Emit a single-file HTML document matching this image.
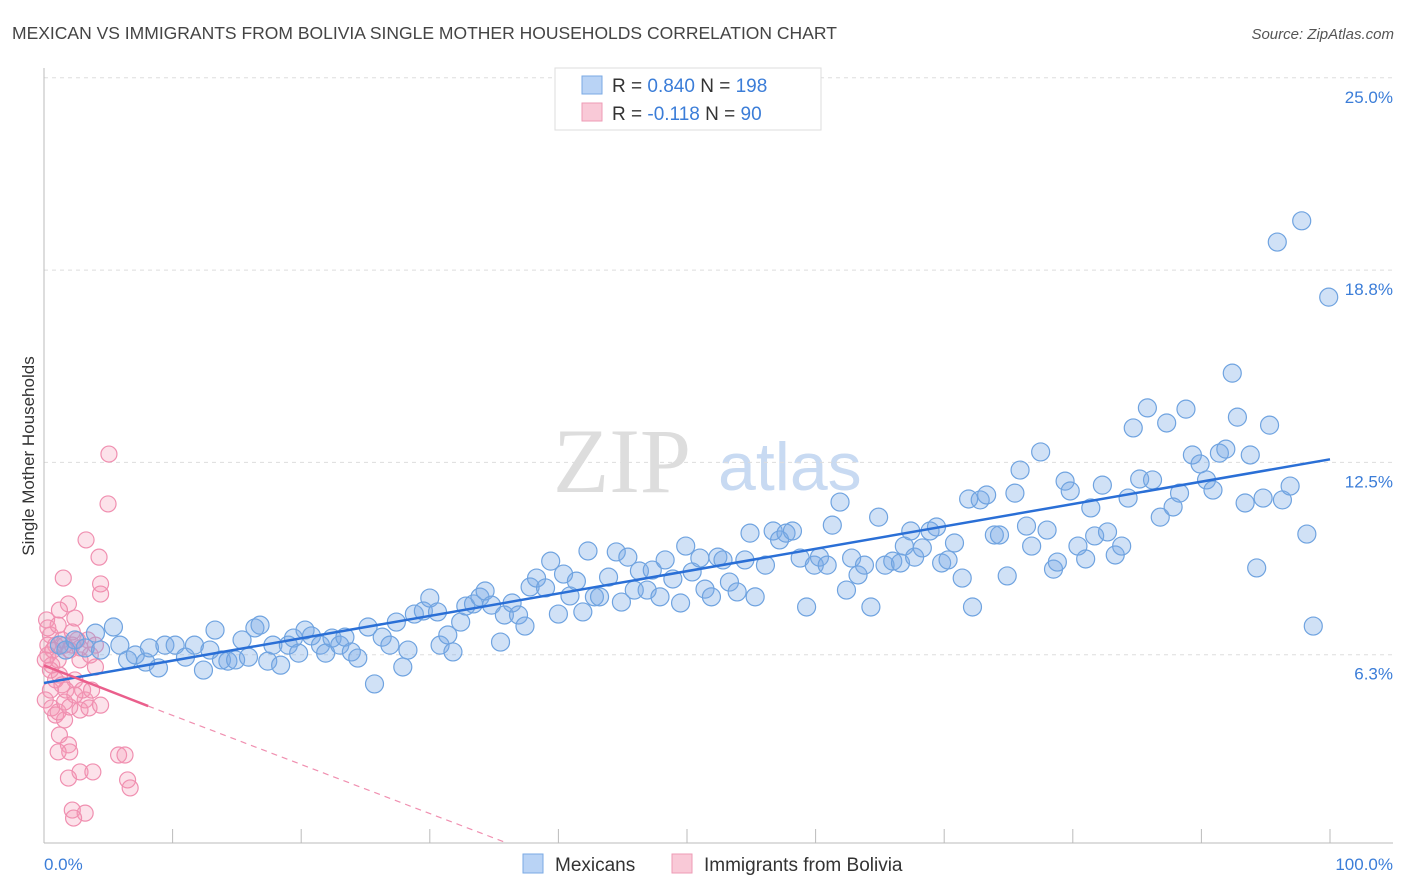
<!DOCTYPE html>
<html><head><meta charset="utf-8"><style>
body{margin:0;background:#fff;font-family:"Liberation Sans",sans-serif}
svg{display:block}
</style></head><body>
<svg id="c" width="1406" height="892" xmlns="http://www.w3.org/2000/svg">
<text x="12" y="39" font-size="17.5" fill="#444">MEXICAN VS IMMIGRANTS FROM BOLIVIA SINGLE MOTHER HOUSEHOLDS CORRELATION CHART</text>
<text x="1394" y="39" font-size="15" fill="#555" font-style="italic" text-anchor="end">Source: ZipAtlas.com</text>
<g>
<text x="553" y="492" font-size="92" font-family="Liberation Serif,serif" fill="#ddd">ZIP</text>
<text x="718" y="490" font-size="68" fill="#c8daf2">atlas</text>
</g>
<g id="grid"></g>
<g id="axes"></g>
<g id="pink"></g>
<g id="blue"></g>
<g id="lines"></g>
<text transform="translate(34,456) rotate(-90)" font-size="17" fill="#333" text-anchor="middle">Single Mother Households</text>
<text x="44" y="870" font-size="17" fill="#3b7dd8">0.0%</text>
<text x="1393" y="870" font-size="17" fill="#3b7dd8" text-anchor="end">100.0%</text>
<g>
<rect x="555" y="68" width="266" height="62" fill="#fff" stroke="#ddd"/>
<rect x="582" y="76" width="20" height="18" fill="#b9d3f5" stroke="#7aa9e4"/>
<rect x="582" y="103" width="20" height="18" fill="#f9c9d7" stroke="#ee9bb6"/>
<text x="612" y="92" font-size="19" fill="#333">R = <tspan fill="#3b7dd8">0.840</tspan>   N = <tspan fill="#3b7dd8">198</tspan></text>
<text x="612" y="120" font-size="19" fill="#333">R = <tspan fill="#3b7dd8">-0.118</tspan>   N = <tspan fill="#3b7dd8"> 90</tspan></text>
</g>
<g>
<rect x="523" y="854" width="20" height="19" fill="#b9d3f5" stroke="#7aa9e4"/>
<text x="555" y="871" font-size="19" fill="#333">Mexicans</text>
<rect x="672" y="854" width="20" height="19" fill="#f9c9d7" stroke="#ee9bb6"/>
<text x="704" y="871" font-size="19" fill="#333">Immigrants from Bolivia</text>
</g>
</svg>
<script>
const yTicks=[6.25,12.5,18.75,25];
const yTickLabels=["6.3%","12.5%","18.8%","25.0%"];
const xTicks=[10,20,30,40,50,60,70,80,90,100];
const blueX=[1.2,1.7,2.4,3.2,4.0,4.4,5.4,5.9,6.5,7.1,7.9,8.2,8.9,9.4,10.2,11.0,11.7,12.4,12.9,13.3,13.8,14.3,14.9,15.4,15.9,16.4,16.8,17.4,17.8,18.4,19.0,19.4,19.8,20.3,20.8,21.5,21.9,22.4,23.0,23.4,23.9,24.4,25.2,25.7,26.3,26.9,27.4,27.9,28.3,28.8,29.5,30.0,30.6,30.8,31.4,31.8,32.4,32.8,33.4,33.9,34.3,34.8,35.5,35.8,36.4,36.9,37.4,37.8,38.3,39.0,39.4,40.0,40.4,40.9,41.4,41.9,42.3,42.8,43.2,43.9,44.5,44.9,45.4,45.9,46.3,46.9,47.3,47.9,48.3,48.9,49.5,49.9,50.4,51.0,51.4,51.9,52.4,52.8,53.3,53.9,54.5,54.9,55.3,56.1,56.7,57.2,57.7,58.2,58.8,59.3,59.9,60.3,60.9,61.3,61.9,62.4,62.8,63.3,63.8,64.3,64.9,65.4,66.0,66.6,66.9,67.4,67.7,68.3,68.9,69.4,69.8,70.3,70.8,71.4,71.9,72.2,72.8,73.3,73.9,74.3,74.9,75.5,75.9,76.4,76.8,77.5,78.0,78.5,78.8,79.4,79.8,80.4,81.0,81.4,81.7,82.3,82.7,83.3,83.8,84.3,84.7,85.2,85.8,86.2,86.8,87.3,87.8,88.3,88.8,89.3,89.9,90.4,90.9,91.4,91.9,92.4,92.8,93.4,93.8,94.3,94.8,95.3,95.9,96.3,96.9,97.8,98.2,98.7,99.9];
const blueY=[6.56,6.4,6.73,6.47,6.95,6.4,7.15,6.56,6.08,6.24,6.01,6.47,5.82,6.56,6.56,6.17,6.56,5.75,6.4,7.05,6.08,6.04,6.08,6.73,6.17,7.12,7.21,6.04,6.56,5.91,6.56,6.79,6.3,7.05,6.86,6.56,6.3,6.79,6.56,6.82,6.34,6.14,7.15,5.3,6.82,6.56,7.31,5.85,6.4,7.57,7.67,8.09,7.64,6.56,6.89,6.34,7.31,7.83,7.9,8.12,8.32,7.86,6.66,7.54,7.93,7.54,7.18,8.45,8.74,8.42,9.29,7.57,8.87,8.16,8.64,7.64,9.62,8.13,8.13,8.77,9.59,7.96,9.42,8.35,8.97,8.35,9.0,8.13,9.33,8.71,7.93,9.78,8.94,9.39,8.38,8.13,9.42,9.33,8.61,8.29,9.33,10.2,8.13,9.16,10.27,9.98,10.2,10.27,9.39,7.8,9.16,9.42,9.16,10.46,11.21,8.35,9.39,8.84,9.16,7.8,10.72,9.16,9.29,9.23,9.78,10.27,9.42,9.72,10.27,10.4,9.23,9.33,9.88,8.74,11.31,7.8,11.28,11.44,10.14,10.14,8.81,11.5,12.25,10.43,9.78,12.84,10.3,9.03,9.26,11.89,11.57,9.78,9.36,11.02,10.11,11.76,10.24,9.49,9.78,11.34,13.62,11.96,14.27,11.93,10.72,13.78,11.05,11.5,14.23,12.74,12.45,11.93,11.6,12.8,12.93,15.4,13.97,11.18,12.74,9.07,11.34,13.71,19.66,11.28,11.73,20.35,10.17,7.18,17.87];
const pinkX=[5.05,4.98,3.27,4.28,1.5,4.4,4.4,1.9,0.2,1.2,2.4,0.5,0.9,0.3,0.6,1.4,2.0,2.8,3.4,4.0,1.2,2.4,0.5,3.2,2.0,0.9,2.8,1.6,3.5,1.2,1.9,2.0,1.1,5.8,6.3,1.9,2.8,3.8,6.5,6.7,2.2,3.2,2.3,0.3,0.7,1.1,1.6,2.2,2.6,0.1,0.5,0.9,1.4,1.7,0.1,0.6,1.1,1.6,3.0,2.4,3.7,4.4,0.3,1.1,2.2,2.8,3.6,4.0];
const pinkY=[12.77,11.15,9.98,9.42,8.74,8.55,8.22,7.9,7.38,7.7,7.44,6.89,6.56,6.24,5.91,6.73,6.4,6.08,6.73,5.85,5.59,5.43,5.1,4.78,4.55,4.29,4.45,4.13,4.52,3.64,3.32,3.09,3.09,2.99,2.99,2.24,2.44,2.44,2.18,1.92,1.2,1.1,0.94,6.56,6.4,6.08,6.56,6.56,6.73,6.08,5.75,5.43,5.27,5.1,4.78,4.52,4.39,4.71,5.1,4.94,5.1,4.61,7.12,7.21,6.99,6.47,6.24,6.56];
const blueFit=[[0,5.33],[100,12.6]];
const pinkFitSolid=[[0,5.9],[8.1,4.58]];
const pinkFitDash=[[8.1,4.58],[36,0.13]];

const X=v=>44+v*12.86, Y=v=>847-v*30.77;
const NS="http://www.w3.org/2000/svg";
function mk(p,t,a){const e=document.createElementNS(NS,t);for(const k in a)e.setAttribute(k,a[k]);document.getElementById(p).appendChild(e);return e;}
yTicks.forEach((t,i)=>{
 const l=mk('grid','line',{x1:44,x2:1393,y1:Y(t),y2:Y(t),stroke:'#ddd','stroke-dasharray':'4,4'});
 
 
 const tx=mk('grid','text',{x:1393,y:Y(t)+25,'font-size':17,fill:'#3b7dd8','text-anchor':'end'});
 tx.textContent=yTickLabels[i];
 
 
});
let a=mk('axes','line',{x1:44,x2:44,y1:68,y2:843,stroke:'#bbb'});


a=mk('axes','line',{x1:44,x2:1393,y1:843,y2:843,stroke:'#bbb'});


xTicks.forEach(t=>{
 const l=mk('axes','line',{x1:X(t),x2:X(t),y1:829,y2:843,stroke:'#bbb'});
 
 
});
pinkX.forEach((x,i)=>{
 const c=mk('pink','circle',{cx:X(x),cy:Y(pinkY[i]),r:8,fill:'rgba(244,150,180,0.28)',stroke:'#f08fb0','stroke-width':1.2});
 
 
});
blueX.forEach((x,i)=>{
 const c=mk('blue','circle',{cx:X(x),cy:Y(blueY[i]),r:9,fill:'rgba(120,170,230,0.35)',stroke:'#6fa3e0','stroke-width':1.2});
 
 
});
let l=mk('lines','line',{x1:X(blueFit[0][0]),y1:Y(blueFit[0][1]),x2:X(blueFit[1][0]),y2:Y(blueFit[1][1]),stroke:'#2a6fd6','stroke-width':2.5});


l=mk('lines','line',{x1:X(pinkFitSolid[0][0]),y1:Y(pinkFitSolid[0][1]),x2:X(pinkFitSolid[1][0]),y2:Y(pinkFitSolid[1][1]),stroke:'#ea5f8c','stroke-width':2.5});


l=mk('lines','line',{x1:X(pinkFitDash[0][0]),y1:Y(pinkFitDash[0][1]),x2:X(pinkFitDash[1][0]),y2:Y(pinkFitDash[1][1]),stroke:'#f08fb0','stroke-width':1.2,'stroke-dasharray':'6,5'});


</script>
</body></html>
